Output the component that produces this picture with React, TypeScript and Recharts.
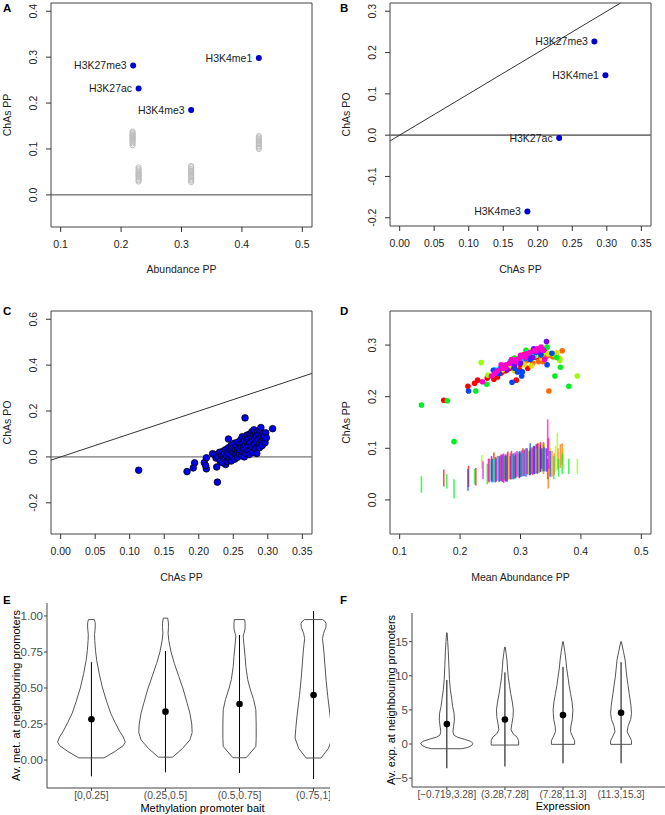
import React from "react";
import { ErrorBar, LabelList, ReferenceArea, ReferenceLine, Scatter, ScatterChart, XAxis, YAxis } from "recharts";

const FONT = "'Liberation Sans', Arial, Helvetica, sans-serif";
const INK = "#222";

// ---- A: abundance vs ChAs PP ----
const marksA = [
  { name: "H3K27me3", x: 0.22, y: 0.282 },
  { name: "H3K27ac", x: 0.229, y: 0.232 },
  { name: "H3K4me3", x: 0.316, y: 0.185 },
  { name: "H3K4me1", x: 0.428, y: 0.298 },
];
const nullXA = [0.219, 0.229, 0.316, 0.428];
const nullYA = [
  [0.108, 0.112, 0.115, 0.118, 0.12, 0.122, 0.124, 0.126, 0.128, 0.13, 0.132, 0.135, 0.138],
  [0.029, 0.032, 0.035, 0.038, 0.041, 0.043, 0.045, 0.047, 0.05, 0.053, 0.056, 0.06],
  [0.028, 0.031, 0.034, 0.038, 0.041, 0.044, 0.047, 0.05, 0.053, 0.056, 0.06, 0.063],
  [0.1, 0.103, 0.106, 0.11, 0.113, 0.116, 0.119, 0.122, 0.125, 0.128],
];
const ticksA_x = [0.1, 0.2, 0.3, 0.4, 0.5];
const ticksA_y = [0, 0.1, 0.2, 0.3, 0.4];

// ---- B: ChAs PP vs ChAs PO ----
const marksB = [
  { name: "H3K27me3", x: 0.282, y: 0.227 },
  { name: "H3K4me1", x: 0.298, y: 0.145 },
  { name: "H3K27ac", x: 0.231, y: -0.007 },
  { name: "H3K4me3", x: 0.185, y: -0.185 },
];
const ticksPP = [0, 0.05, 0.1, 0.15, 0.2, 0.25, 0.3, 0.35];
const ticksB_y = [-0.2, -0.1, 0, 0.1, 0.2, 0.3];

// ---- C: per-feature ChAs PP vs PO ----
const pointsC: [number, number][] = [
  [0.113, -0.058], [0.183, -0.064], [0.192, -0.048], [0.194, -0.026], [0.208, -0.025], [0.211, -0.052],
  [0.211, -0.004], [0.21, -0.038], [0.22, 0.014], [0.226, -0.044], [0.227, -0.11], [0.239, -0.033],
  [0.243, 0.078], [0.267, 0.17], [0.307, 0.123],
  [0.223, 0.01], [0.225, -0.005], [0.228, 0.002], [0.23, 0.02], [0.231, -0.018], [0.233, 0.008],
  [0.234, -0.025], [0.235, 0.025], [0.236, 0.0], [0.237, 0.015], [0.238, -0.01], [0.239, 0.032],
  [0.24, 0.005], [0.241, -0.02], [0.242, 0.018], [0.243, 0.04], [0.244, -0.005], [0.245, 0.028],
  [0.246, 0.01], [0.247, 0.05], [0.247, -0.018], [0.248, 0.035], [0.249, 0.002], [0.25, 0.02],
  [0.251, 0.045], [0.252, -0.01], [0.252, 0.06], [0.253, 0.03], [0.254, 0.012], [0.255, 0.05],
  [0.256, 0.025], [0.256, -0.002], [0.257, 0.065], [0.258, 0.04], [0.259, 0.015], [0.26, 0.055],
  [0.26, 0.03], [0.261, 0.075], [0.262, 0.005], [0.262, 0.045], [0.263, 0.088], [0.264, 0.06],
  [0.264, 0.022], [0.265, 0.035], [0.266, 0.07], [0.266, 0.0], [0.267, 0.05], [0.268, 0.085],
  [0.268, 0.015], [0.269, 0.04], [0.27, 0.065], [0.27, 0.095], [0.271, 0.028], [0.272, 0.078],
  [0.272, 0.05], [0.273, 0.01], [0.274, 0.1], [0.274, 0.06], [0.275, 0.035], [0.276, 0.085],
  [0.276, 0.045], [0.277, 0.11], [0.278, 0.07], [0.278, 0.02], [0.279, 0.095], [0.28, 0.055],
  [0.28, 0.118], [0.281, 0.08], [0.282, 0.035], [0.282, 0.1], [0.283, 0.065], [0.284, 0.09],
  [0.284, 0.015], [0.285, 0.112], [0.286, 0.05], [0.286, 0.075], [0.287, 0.098], [0.288, 0.06],
  [0.288, 0.04], [0.289, 0.115], [0.29, 0.085], [0.29, 0.128], [0.291, 0.07], [0.292, 0.05],
  [0.293, 0.1], [0.294, 0.08], [0.295, 0.09], [0.296, 0.062], [0.297, 0.105], [0.298, 0.083],
];
const ticksC_y = [-0.2, 0, 0.2, 0.4, 0.6];

// ---- D: mean abundance vs ChAs PP, coloured by feature group ----
const groupColours = ["#FF0000", "#FF6A00", "#E0E000", "#99FF00", "#00EE22", "#00E5FF", "#0044FF", "#7700FF", "#FF00CC"];
const upperD: [number, number][][] = [
  [[0.173, 0.193], [0.213, 0.22], [0.224, 0.226], [0.229, 0.232], [0.256, 0.234], [0.262, 0.238], [0.275, 0.25], [0.293, 0.232], [0.298, 0.252], [0.305, 0.281], [0.312, 0.255], [0.319, 0.284], [0.34, 0.292], [0.3, 0.262], [0.245, 0.236], [0.268, 0.246], [0.283, 0.255], [0.326, 0.276]],
  [[0.347, 0.211], [0.369, 0.289], [0.33, 0.268], [0.343, 0.278], [0.285, 0.262], [0.35, 0.28], [0.31, 0.27], [0.32, 0.265], [0.337, 0.268], [0.354, 0.277]],
  [[0.29, 0.25], [0.318, 0.26], [0.335, 0.275], [0.36, 0.285], [0.326, 0.28], [0.28, 0.258], [0.27, 0.252], [0.306, 0.262], [0.346, 0.283], [0.365, 0.274]],
  [[0.235, 0.266], [0.394, 0.24], [0.365, 0.27], [0.246, 0.242], [0.32, 0.29], [0.355, 0.282], [0.3, 0.268], [0.274, 0.258], [0.315, 0.275], [0.338, 0.285]],
  [[0.136, 0.184], [0.179, 0.192], [0.19, 0.113], [0.226, 0.211], [0.244, 0.224], [0.357, 0.24], [0.366, 0.257], [0.38, 0.22], [0.344, 0.296], [0.29, 0.275], [0.36, 0.276], [0.262, 0.248], [0.309, 0.29], [0.333, 0.282]],
  [[0.266, 0.255], [0.272, 0.26], [0.305, 0.273], [0.33, 0.29], [0.283, 0.268], [0.312, 0.285], [0.322, 0.278], [0.258, 0.252], [0.292, 0.262], [0.3, 0.27], [0.318, 0.282], [0.336, 0.292]],
  [[0.214, 0.211], [0.255, 0.251], [0.286, 0.228], [0.295, 0.248], [0.303, 0.248], [0.302, 0.24], [0.344, 0.262], [0.308, 0.275], [0.325, 0.286], [0.265, 0.245], [0.352, 0.284], [0.275, 0.258], [0.29, 0.255], [0.316, 0.272], [0.334, 0.281]],
  [[0.343, 0.307], [0.322, 0.293], [0.258, 0.245], [0.29, 0.262], [0.33, 0.287], [0.278, 0.252], [0.312, 0.28], [0.268, 0.255], [0.3, 0.265], [0.32, 0.276], [0.338, 0.29]],
  [[0.237, 0.229], [0.252, 0.24], [0.262, 0.25], [0.27, 0.255], [0.276, 0.262], [0.282, 0.265], [0.288, 0.27], [0.293, 0.272], [0.298, 0.274], [0.305, 0.278], [0.31, 0.283], [0.316, 0.286], [0.322, 0.289], [0.328, 0.293], [0.334, 0.296], [0.34, 0.272], [0.268, 0.262], [0.285, 0.272], [0.3, 0.28], [0.258, 0.246], [0.275, 0.256], [0.292, 0.268], [0.308, 0.276], [0.326, 0.289], [0.337, 0.29]],
];
// null streaks: [mean abundance, low ChAs, high ChAs]
const streaksD: [number, number, number][][] = [
  [[0.173, 0.026, 0.059], [0.214, 0.025, 0.066], [0.226, 0.028, 0.062], [0.256, 0.035, 0.092], [0.262, 0.038, 0.085], [0.272, 0.033, 0.09], [0.285, 0.04, 0.095], [0.292, 0.042, 0.088], [0.32, 0.048, 0.1], [0.333, 0.055, 0.112], [0.345, 0.04, 0.08], [0.248, 0.034, 0.08], [0.268, 0.036, 0.088], [0.279, 0.04, 0.094], [0.304, 0.046, 0.1], [0.326, 0.052, 0.108]],
  [[0.346, 0.022, 0.07], [0.369, 0.068, 0.11], [0.352, 0.045, 0.095], [0.338, 0.05, 0.105], [0.3, 0.045, 0.09], [0.362, 0.06, 0.1], [0.274, 0.038, 0.086], [0.316, 0.05, 0.1], [0.33, 0.052, 0.11], [0.356, 0.048, 0.09], [0.366, 0.062, 0.108]],
  [[0.266, 0.04, 0.08], [0.296, 0.048, 0.092], [0.313, 0.05, 0.095], [0.327, 0.055, 0.1], [0.358, 0.055, 0.105], [0.28, 0.038, 0.085], [0.254, 0.036, 0.082], [0.287, 0.042, 0.09], [0.321, 0.052, 0.105], [0.337, 0.056, 0.108], [0.35, 0.05, 0.1]],
  [[0.236, 0.06, 0.087], [0.361, 0.058, 0.13], [0.394, 0.05, 0.08], [0.25, 0.04, 0.078], [0.306, 0.05, 0.098], [0.34, 0.058, 0.11], [0.262, 0.038, 0.084], [0.282, 0.042, 0.09], [0.312, 0.048, 0.098], [0.329, 0.052, 0.105], [0.348, 0.06, 0.118], [0.371, 0.06, 0.1]],
  [[0.136, 0.014, 0.046], [0.178, 0.022, 0.05], [0.19, 0.003, 0.04], [0.224, 0.03, 0.06], [0.245, 0.03, 0.07], [0.38, 0.05, 0.08], [0.363, 0.045, 0.08], [0.29, 0.04, 0.085], [0.355, 0.04, 0.085], [0.257, 0.036, 0.08], [0.274, 0.04, 0.085], [0.301, 0.045, 0.092], [0.336, 0.055, 0.1], [0.369, 0.05, 0.09]],
  [[0.258, 0.033, 0.078], [0.276, 0.035, 0.082], [0.303, 0.045, 0.09], [0.318, 0.05, 0.098], [0.331, 0.052, 0.1], [0.249, 0.035, 0.078], [0.264, 0.036, 0.084], [0.286, 0.04, 0.088], [0.296, 0.044, 0.094], [0.311, 0.048, 0.1], [0.324, 0.05, 0.104], [0.342, 0.055, 0.1]],
  [[0.213, 0.018, 0.06], [0.265, 0.035, 0.085], [0.288, 0.04, 0.09], [0.309, 0.045, 0.1], [0.323, 0.05, 0.105], [0.335, 0.06, 0.1], [0.349, 0.045, 0.095], [0.253, 0.034, 0.08], [0.277, 0.036, 0.086], [0.299, 0.044, 0.095], [0.316, 0.048, 0.11], [0.328, 0.05, 0.108], [0.339, 0.055, 0.102]],
  [[0.252, 0.036, 0.085], [0.27, 0.035, 0.088], [0.283, 0.04, 0.085], [0.298, 0.042, 0.092], [0.315, 0.048, 0.095], [0.343, 0.055, 0.1], [0.259, 0.035, 0.083], [0.275, 0.036, 0.088], [0.291, 0.042, 0.092], [0.306, 0.046, 0.097], [0.322, 0.05, 0.104], [0.333, 0.054, 0.106]],
  [[0.238, 0.04, 0.075], [0.26, 0.036, 0.08], [0.278, 0.035, 0.09], [0.294, 0.045, 0.095], [0.311, 0.05, 0.1], [0.328, 0.055, 0.11], [0.345, 0.085, 0.156], [0.247, 0.036, 0.08], [0.267, 0.037, 0.086], [0.284, 0.04, 0.09], [0.302, 0.046, 0.096], [0.319, 0.05, 0.102], [0.338, 0.056, 0.112], [0.346, 0.06, 0.12]],
];
const ticksD_y = [0, 0.1, 0.2, 0.3];

// ---- E: methylation violins ----
const methCats = ["[0,0.25]", "(0.25,0.5]", "(0.5,0.75]", "(0.75,1]"];
const methMean = [0.283, 0.336, 0.389, 0.451];
const methSd = [0.396, 0.421, 0.479, 0.583];
const methLevels = [
  [0.015, 0.06, 0.1, 0.125, 0.16, 0.2, 0.26, 0.325, 0.4, 0.5, 0.6, 0.69, 0.76, 0.83, 0.87, 0.9, 0.93, 0.955, 0.975],
  [0.02, 0.08, 0.14, 0.19, 0.25, 0.325, 0.4, 0.5, 0.58, 0.67, 0.75, 0.83, 0.88, 0.92, 0.95, 0.985],
  [0.016, 0.094, 0.15, 0.25, 0.35, 0.42, 0.5, 0.56, 0.65, 0.72, 0.8, 0.86, 0.88, 0.91, 0.95, 0.975],
  [0.014, 0.08, 0.152, 0.22, 0.3, 0.45, 0.55, 0.68, 0.75, 0.8, 0.843, 0.88, 0.92, 0.947, 0.965, 0.975],
];
const methWidths = [
  [0.17, 0.32, 0.43, 0.457, 0.43, 0.38, 0.32, 0.26, 0.21, 0.15, 0.105, 0.072, 0.055, 0.045, 0.042, 0.048, 0.052, 0.05, 0.04],
  [0.095, 0.23, 0.33, 0.36, 0.355, 0.33, 0.29, 0.234, 0.18, 0.12, 0.075, 0.045, 0.035, 0.04, 0.04, 0.03],
  [0.09, 0.22, 0.225, 0.225, 0.22, 0.19, 0.14, 0.11, 0.085, 0.075, 0.06, 0.05, 0.06, 0.075, 0.075, 0.07],
  [0.1, 0.2, 0.25, 0.24, 0.225, 0.19, 0.17, 0.15, 0.14, 0.13, 0.12, 0.135, 0.165, 0.17, 0.15, 0.12],
];
const methTicks = [0, 0.25, 0.5, 0.75, 1];

// ---- F: expression violins ----
const exprCats = ["[\u22120.719,3.28]", "(3.28,7.28]", "(7.28,11.3]", "(11.3,15.3]"];
const exprMean = [2.92, 3.6, 4.24, 4.58];
const exprSd = [6.47, 6.9, 7.07, 7.41];
const exprLevels = [
  [-0.69, -0.5, -0.2, 0.1, 0.4, 0.7, 1.0, 1.3, 1.8, 2.5, 3.5, 4.5, 5.5, 6.5, 8.0, 9.5, 11.5, 13.5, 15.0, 16.3],
  [-0.15, 0.5, 1.0, 1.5, 2.1, 3.0, 4.0, 5.0, 6.0, 7.4, 8.6, 9.8, 11.0, 12.3, 13.3, 14.2],
  [-0.05, 0.5, 1.0, 1.8, 2.6, 3.6, 5.0, 6.2, 7.4, 8.6, 9.8, 11.0, 12.3, 13.6, 15.0],
  [-0.05, 0.5, 1.0, 1.8, 2.6, 3.6, 4.5, 5.6, 7.4, 8.6, 9.8, 11.0, 12.3, 13.6, 15.0],
];
const exprWidths = [
  [0.26, 0.36, 0.43, 0.45, 0.41, 0.3, 0.18, 0.12, 0.105, 0.115, 0.13, 0.125, 0.1, 0.085, 0.06, 0.045, 0.035, 0.025, 0.015, 0.005],
  [0.236, 0.236, 0.21, 0.14, 0.105, 0.12, 0.14, 0.145, 0.13, 0.1, 0.078, 0.057, 0.045, 0.035, 0.02, 0.005],
  [0.2, 0.2, 0.17, 0.13, 0.135, 0.16, 0.17, 0.155, 0.13, 0.105, 0.086, 0.065, 0.05, 0.03, 0.005],
  [0.18, 0.18, 0.15, 0.105, 0.12, 0.165, 0.18, 0.17, 0.14, 0.12, 0.1, 0.085, 0.07, 0.04, 0.005],
];
const exprTicks = [-5, 0, 5, 10, 15];

// ---- helpers ----
const toXY = (pairs: [number, number][]) => pairs.map(([x, y]) => ({ x, y }));

function violinOutline(center: number, levels: number[], widths: number[]) {
  const right = levels.map((y, i) => ({ x: center + widths[i], y }));
  const left = levels.map((y, i) => ({ x: center - widths[i], y })).reverse();
  return [...right, ...left, right[0]];
}

const makeRotTick = (digits: number) => (props: any) => {
  const { x, y, payload } = props;
  const cx = x - 13;
  return (
    <text x={cx} y={y} transform={`rotate(-90 ${cx} ${y})`} textAnchor="middle" dominantBaseline="central"
      fontSize={10.5} fill={INK} fontFamily={FONT}>
      {Number(payload.value).toFixed(digits)}
    </text>
  );
};

const blueDot = (p: any) => <circle cx={p.cx} cy={p.cy} r={3} fill="#0000CD" />;
const openGrey = (p: any) => <circle cx={p.cx} cy={p.cy} r={2.6} fill="none" stroke="#BDBDBD" strokeWidth={1} />;
const ringedBlue = (p: any) => <circle cx={p.cx} cy={p.cy} r={3.3} fill="#0000EE" stroke="#000" strokeWidth={0.8} />;
const colourDot = (c: string) => (p: any) => <circle cx={p.cx} cy={p.cy} r={2.8} fill={c} />;
const noPoint = () => <g />;
const blackDot = (p: any) => <circle cx={p.cx} cy={p.cy} r={3.3} fill="#000" />;

const rAxis = {
  type: "number" as const,
  axisLine: false,
  tickLine: { stroke: "#333" },
  tickSize: 5,
  allowDataOverflow: true,
  interval: 0 as const,
};
const rTick = { fontSize: 10.5, fill: INK, fontFamily: FONT };
const rTitle = (value: string, offset: number) => ({ value, position: "insideBottom" as const, offset, fontSize: 10.5, fill: INK, fontFamily: FONT });
const rYTitle = (value: string, offset: number) => ({
  value, angle: -90, position: "insideLeft" as const, offset, fontSize: 10.5, fill: INK, fontFamily: FONT,
  style: { textAnchor: "middle" },
});
const pointLabel = { fontSize: 10.5, fill: INK, fontFamily: FONT };

function Box({ xd, yd }: { xd: number[]; yd: number[] }) {
  return <ReferenceArea x1={xd[0]} x2={xd[1]} y1={yd[0]} y2={yd[1]} fill="none" stroke="#444" strokeWidth={1} />;
}

function PanelA() {
  const xd = [0.084, 0.516];
  const yd = [-0.07, 0.418];
  const nulls = nullXA.flatMap((x, i) => nullYA[i].map((y) => ({ x, y })));
  return (
    <ScatterChart width={330} height={290} margin={{ top: 3, right: 18, bottom: 0, left: 0 }}>
      <XAxis {...rAxis} dataKey="x" domain={xd} ticks={ticksA_x} tickMargin={9} height={63} tick={rTick}
        tickFormatter={(v: number) => v.toFixed(1)} label={rTitle("Abundance PP", 17)} />
      <YAxis {...rAxis} dataKey="y" domain={yd} ticks={ticksA_y} tickMargin={0} width={51} tick={makeRotTick(1)}
        label={rYTitle("ChAs PP", 7.5)} />
      {Box({ xd, yd })}
      <ReferenceLine y={0} stroke="#444" strokeWidth={1} />
      <Scatter data={nulls} shape={openGrey} isAnimationActive={false} />
      <Scatter data={marksA} shape={blueDot} isAnimationActive={false}>
        <LabelList dataKey="name" position="left" offset={2} style={pointLabel} />
      </Scatter>
    </ScatterChart>
  );
}

function PanelB() {
  const xd = [-0.014, 0.364];
  const yd = [-0.22, 0.32];
  return (
    <ScatterChart width={335} height={290} margin={{ top: 3, right: 14, bottom: 0, left: 0 }}>
      <XAxis {...rAxis} dataKey="x" domain={xd} ticks={ticksPP} tickMargin={9} height={64} tick={rTick}
        tickFormatter={(v: number) => v.toFixed(2)} label={rTitle("ChAs PP", 17)} />
      <YAxis {...rAxis} dataKey="y" domain={yd} ticks={ticksB_y} tickMargin={0} width={60} tick={makeRotTick(1)}
        label={rYTitle("ChAs PO", 16)} />
      {Box({ xd, yd })}
      <ReferenceLine y={0} stroke="#777" strokeWidth={1.6} />
      <ReferenceLine segment={[{ x: xd[0], y: xd[0] }, { x: yd[1], y: yd[1] }]} stroke="#333" strokeWidth={1} />
      <Scatter data={marksB} shape={blueDot} isAnimationActive={false}>
        <LabelList dataKey="name" position="left" offset={2} style={pointLabel} />
      </Scatter>
    </ScatterChart>
  );
}

function PanelC() {
  const xd = [-0.014, 0.364];
  const yd = [-0.336, 0.636];
  return (
    <ScatterChart width={330} height={300} margin={{ top: 21, right: 18, bottom: 0, left: 0 }}>
      <XAxis {...rAxis} dataKey="x" domain={xd} ticks={ticksPP} tickMargin={9} height={56} tick={rTick}
        tickFormatter={(v: number) => v.toFixed(2)} label={rTitle("ChAs PP", 9)} />
      <YAxis {...rAxis} dataKey="y" domain={yd} ticks={ticksC_y} tickMargin={0} width={51} tick={makeRotTick(1)}
        label={rYTitle("ChAs PO", 7.5)} />
      {Box({ xd, yd })}
      <ReferenceLine y={0} stroke="#777" strokeWidth={1.4} />
      <ReferenceLine segment={[{ x: xd[0], y: xd[0] }, { x: xd[1], y: xd[1] }]} stroke="#333" strokeWidth={1} />
      <Scatter data={toXY(pointsC)} shape={ringedBlue} isAnimationActive={false} />
    </ScatterChart>
  );
}

function PanelD() {
  const xd = [0.084, 0.516];
  const yd = [-0.066, 0.366];
  return (
    <ScatterChart width={335} height={300} margin={{ top: 21, right: 14, bottom: 0, left: 0 }}>
      <XAxis {...rAxis} dataKey="x" domain={xd} ticks={ticksA_x} tickMargin={9} height={56} tick={rTick}
        tickFormatter={(v: number) => v.toFixed(1)} label={rTitle("Mean Abundance PP", 9)} />
      <YAxis {...rAxis} dataKey="y" domain={yd} ticks={ticksD_y} tickMargin={0} width={60} tick={makeRotTick(1)}
        label={rYTitle("ChAs PP", 16)} />
      {Box({ xd, yd })}
      {streaksD.map((group, i) => (
        <Scatter key={`s${i}`} data={group.map(([x, lo, hi]) => ({ x, y: (lo + hi) / 2, err: (hi - lo) / 2 }))}
          shape={noPoint} isAnimationActive={false}>
          <ErrorBar dataKey="err" direction="y" width={0} stroke={groupColours[i]} strokeWidth={1.6} strokeOpacity={0.7} />
        </Scatter>
      ))}
      {upperD.map((group, i) => (
        <Scatter key={`u${i}`} data={toXY(group)} shape={colourDot(groupColours[i])} isAnimationActive={false} />
      ))}
    </ScatterChart>
  );
}

const ggAxisLine = { stroke: "#444", strokeWidth: 1 };
const ggYTick = { fontSize: 11.5, fill: "#4D4D4D", fontFamily: FONT };
const ggTitle = (value: string, offset: number) => ({ value, position: "insideBottom" as const, offset, fontSize: 11, fill: "#000", fontFamily: FONT });
const ggYTitle = (value: string, offset: number) => ({
  value, angle: -90, position: "insideLeft" as const, offset, fontSize: 11, fill: "#000", fontFamily: FONT,
  style: { textAnchor: "middle" },
});

function ViolinPanel(props: {
  width: number; marginTop: number; marginRight: number; axisHeight: number; yWidth: number; xMax: number;
  cats: string[]; catFont: number; means: number[]; sds: number[]; levels: number[][]; widths: number[][];
  yTicks: number[]; yDomain: number[]; yFmt: (v: number) => string;
  xTitle: string; xTitleOffset: number; yTitle: string; yTitleOffset: number;
}) {
  const summary = props.means.map((m, i) => ({ x: i + 1, y: m, err: props.sds[i] }));
  return (
    <ScatterChart width={props.width} height={225}
      margin={{ top: props.marginTop, right: props.marginRight, bottom: 1, left: 0 }}>
      <XAxis type="number" dataKey="x" domain={[0.4, props.xMax]} ticks={[1, 2, 3, 4]} allowDataOverflow interval={0}
        tickFormatter={(v: number) => props.cats[v - 1]} axisLine={ggAxisLine} tickLine={ggAxisLine}
        tickSize={3} tickMargin={1} height={props.axisHeight}
        tick={{ fontSize: props.catFont, fill: "#4D4D4D", fontFamily: FONT }}
        label={ggTitle(props.xTitle, props.xTitleOffset)} />
      <YAxis type="number" dataKey="y" domain={props.yDomain} ticks={props.yTicks} allowDataOverflow interval={0}
        tickFormatter={props.yFmt} axisLine={ggAxisLine} tickLine={ggAxisLine} tickSize={3} tickMargin={1}
        width={props.yWidth} tick={ggYTick} label={ggYTitle(props.yTitle, props.yTitleOffset)} />
      {props.levels.map((lv, i) => (
        <Scatter key={`v${i}`} data={violinOutline(i + 1, lv, props.widths[i])} shape={noPoint}
          line={{ stroke: "#555", strokeWidth: 1 }} isAnimationActive={false} />
      ))}
      <Scatter data={summary} shape={blackDot} isAnimationActive={false}>
        <ErrorBar dataKey="err" direction="y" width={0} stroke="#000" strokeWidth={1} />
      </Scatter>
    </ScatterChart>
  );
}

function PanelLetters() {
  const letters = [
    { t: "A", x: 3, y: 12 }, { t: "B", x: 340, y: 12 },
    { t: "C", x: 3, y: 315 }, { t: "D", x: 340, y: 315 },
    { t: "E", x: 3, y: 604 }, { t: "F", x: 340, y: 604 },
  ];
  return (
    <svg width={665} height={815} style={{ position: "absolute", left: 0, top: 0, pointerEvents: "none" }}>
      {letters.map((l) => (
        <text key={l.t} x={l.x} y={l.y} fontSize={11.5} fontWeight="bold" fontFamily={FONT} fill="#000">{l.t}</text>
      ))}
    </svg>
  );
}

export default function App() {
  return (
    <div style={{ position: "absolute", left: 0, top: 0, width: 665, height: 815, background: "#fff", fontFamily: FONT }}>
      <div style={{ position: "absolute", left: 0, top: 0 }}><PanelA /></div>
      <div style={{ position: "absolute", left: 330, top: 0 }}><PanelB /></div>
      <div style={{ position: "absolute", left: 0, top: 290 }}><PanelC /></div>
      <div style={{ position: "absolute", left: 330, top: 290 }}><PanelD /></div>
      <div style={{ position: "absolute", left: 0, top: 590, width: 330, height: 225, overflow: "hidden" }}>
        <ViolinPanel width={365} marginTop={13} marginRight={7} axisHeight={26} yWidth={47} xMax={4.6}
          cats={methCats} catFont={10.3} means={methMean} sds={methSd} levels={methLevels} widths={methWidths}
          yTicks={methTicks} yDomain={[-0.194, 1.09]} yFmt={(v) => v.toFixed(2)}
          xTitle="Methylation promoter bait" xTitleOffset={2} yTitle="Av. met. at neighbouring promoters" yTitleOffset={16} />
      </div>
      <div style={{ position: "absolute", left: 330, top: 590, width: 335, height: 225, overflow: "hidden" }}>
        <ViolinPanel width={390} marginTop={23} marginRight={6} axisHeight={27} yWidth={82} xMax={5.6}
          cats={exprCats} catFont={10} means={exprMean} sds={exprSd} levels={exprLevels} widths={exprWidths}
          yTicks={exprTicks} yDomain={[-6.3, 19.2]} yFmt={(v) => (v < 0 ? `\u2212${Math.abs(v)}` : `${v}`)}
          xTitle="Expression" xTitleOffset={4} yTitle="Av. exp. at neighbouring promoters" yTitleOffset={61} />
      </div>
      <PanelLetters />
    </div>
  );
}
